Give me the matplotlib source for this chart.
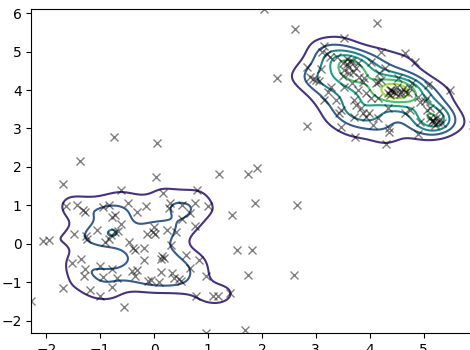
import numpy as np
import matplotlib
matplotlib.use("Agg")
import matplotlib.pyplot as plt

# Sample points: a broad blob near the origin and an elongated one near (4, 4)
x_low = [-1.70, -0.62, -1.64, -1.44, -1.32, -1.29, -0.94, -0.84, -0.48, -0.32, -0.16,
         -0.78, -0.73, -0.62, -0.73, -0.67, -0.81, -0.84, -0.92, -1.06, -1.27, -1.25,
         -1.48, -1.95, -2.07, -0.47, -0.39, -0.36, -0.19, -0.13, -1.35, -1.53, -1.29,
         -1.31, -1.01, -0.79, -0.94, -0.69, -0.41, -0.31, -0.36, -0.19, -1.69, -1.19,
         -1.00, -0.79, -2.28, -0.56, -0.11, -1.37, -0.75, 0.06,
         0.04, 1.20, 1.74, 1.90, 0.17, 0.80, 0.29, 0.28, 0.52, 0.66, 0.75, 1.00,
         1.87, 2.65, 1.44, 0.51, 0.00, -0.03, 0.02, 0.24, 0.41, 0.75, 0.31, 0.14,
         0.19, 0.13, 0.60, 0.84, 1.54, 1.82, 0.66, 0.34, 0.13, 0.37, 0.47, 0.50,
         0.09, -0.06, 0.96, 1.75, 2.59, 0.77, 1.09, 1.19, 1.40, 0.97, 1.69]
y_low = [1.55, 1.39, 0.98, 1.00, 0.87, 0.83, 0.96, 1.00, 1.06, 0.83, 0.98,
         0.70, 0.74, 0.51, 0.31, 0.33, 0.22, 0.13, 0.04, 0.35, 0.19, 0.13,
         0.25, 0.11, 0.06, 0.04, -0.11, -0.17, -0.11, 0.26, -0.39, -0.50, -0.65,
         -0.85, -0.59, -0.65, -0.87, -0.88, -0.71, -0.69, -0.85, -0.43, -1.14, -1.20,
         -1.35, -1.13, -1.49, -1.65, -0.98, 2.15, 2.77, 2.61,
         1.74, 1.82, 1.82, 1.97, 1.32, 1.41, 1.07, 0.94, 1.00, 0.80, 1.06, 0.98,
         1.05, 1.02, 0.74, 0.65, 0.44, 0.31, 0.25, 0.37, 0.31, 0.45, -0.04, -0.33,
         -0.36, -0.39, -0.30, -0.41, -0.15, -0.15, -0.62, -0.76, -0.74, -0.88, -0.91,
         -0.98, -1.00, -0.95, -0.84, -0.82, -0.80, -1.37, -1.35, -1.37, -1.29, -2.33, -2.24]

x_high = [2.04, 2.62, 4.14, 2.83, 2.90, 2.95, 3.00, 3.06, 2.28, 2.83, 3.16, 3.37,
          3.22, 3.53, 3.46, 3.43, 3.71, 3.75, 3.84, 3.87, 3.93, 3.99, 3.71, 4.06,
          3.46, 3.73, 4.15, 3.78, 3.93, 4.03, 4.30, 4.35, 4.35, 4.89, 4.85, 4.66,
          4.21, 5.49, 3.53, 3.15, 3.12, 3.40, 3.58, 3.67, 3.50, 4.03, 3.51, 3.62,
          3.81, 3.90, 3.87, 3.68, 4.12, 3.28, 4.18, 4.28, 4.15, 4.21, 4.53, 4.78,
          5.09, 4.37, 4.46, 4.59, 4.74, 4.34, 4.71, 4.90, 4.93, 4.34, 4.74, 5.06,
          5.12, 5.28, 4.15, 4.65, 5.24, 5.34, 4.93, 5.92,
          3.58, 3.74, 3.52, 3.79, 3.64, 3.70, 3.62,
          4.42, 4.56, 4.38, 4.62, 4.50, 4.66, 4.48, 4.40,
          5.18, 5.27, 5.12, 5.22, 5.30, 5.20, 5.16,
          5.02, 5.06, 3.20, 3.26, 3.10]
y_high = [6.10, 5.59, 5.74, 4.59, 4.33, 4.28, 4.26, 4.24, 4.31, 3.06, 3.75, 3.73,
          3.96, 4.09, 3.48, 3.39, 3.74, 3.61, 3.54, 3.39, 3.30, 3.39, 3.30, 3.09,
          3.04, 2.78, 3.26, 4.00, 3.91, 3.78, 2.59, 3.01, 2.90, 2.86, 4.72, 4.96,
          5.00, 4.01, 5.35, 5.15, 5.00, 4.87, 4.80, 4.76, 4.70, 4.74, 4.37, 4.44,
          4.35, 4.31, 4.22, 4.17, 4.17, 4.09, 4.44, 4.57, 4.22, 4.26, 4.31, 4.17,
          4.13, 4.00, 3.96, 3.96, 4.04, 3.91, 3.91, 3.83, 3.69, 3.52, 3.48, 3.48,
          3.52, 3.45, 3.78, 3.39, 3.26, 3.13, 3.17, 3.10,
          4.68, 4.58, 4.52, 4.70, 4.75, 4.48, 4.60,
          3.98, 3.90, 3.88, 4.02, 4.08, 3.95, 3.92, 4.00,
          3.22, 3.16, 3.28, 3.10, 3.24, 3.18, 3.20,
          3.72, 3.78, 4.95, 4.85, 4.55]

x = np.array(x_low + x_high)
y = np.array(y_low + y_high)

# Gaussian kernel density estimate on a regular grid spanning the data
bandwidth = 0.27
gx = np.linspace(x.min(), x.max(), 200)
gy = np.linspace(y.min(), y.max(), 200)
X, Y = np.meshgrid(gx, gy)
Z = np.zeros_like(X)
for xi, yi in zip(x, y):
    Z += np.exp(-((X - xi) ** 2 + (Y - yi) ** 2) / (2 * bandwidth ** 2))
Z /= len(x) * 2 * np.pi * bandwidth ** 2

fig = plt.figure(figsize=(4.7, 3.5), dpi=100)
ax = fig.add_axes([0.0666, 0.0477, 0.94, 0.9257])
ax.contour(X, Y, Z)
ax.plot(x, y, 'kx', alpha=0.5)
fig.savefig("out.png", dpi=100)
